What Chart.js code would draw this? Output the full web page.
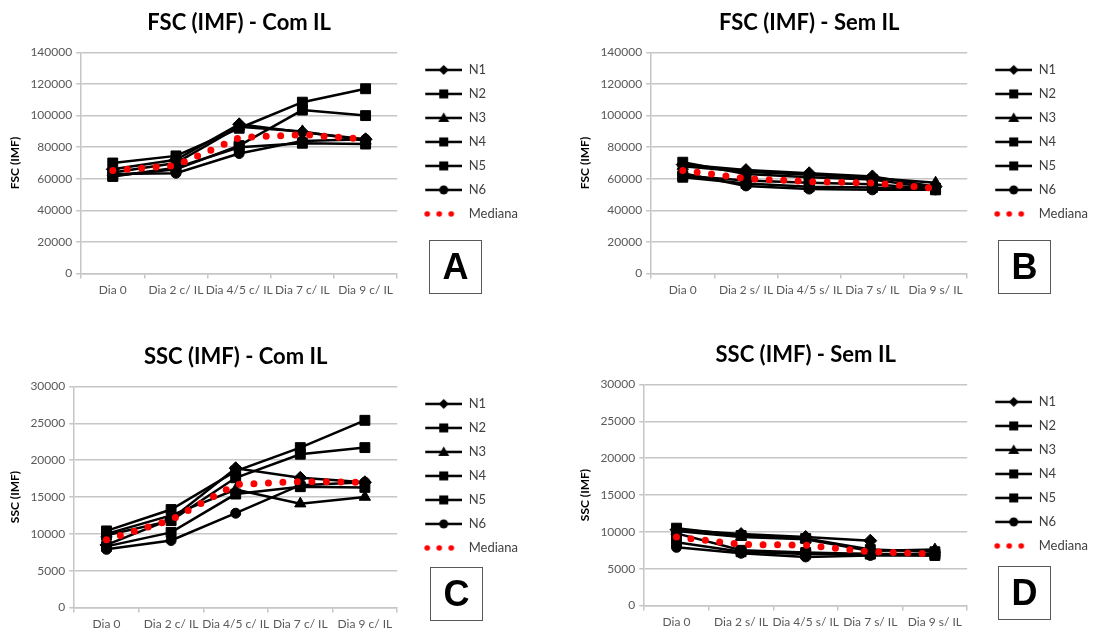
<!DOCTYPE html>
<html>
<head>
<meta charset="utf-8">
<script src="https://cdn.jsdelivr.net/npm/chart.js@4.4.1/dist/chart.umd.min.js"></script>
<style>
  body { margin: 0; background: #fff; }
  #wrap { position: relative; width: 1094px; height: 633px; overflow: hidden; }
  canvas { position: absolute; }
  .letra {
    position: absolute; width: 53px; height: 54px; border: 1px solid #595959;
    font: bold 36px "Liberation Sans", Arial, sans-serif; color: #000;
    display: flex; align-items: center; justify-content: center; box-sizing: border-box;
  }
</style>
</head>
<body>
<div id="wrap">
  <canvas id="gA" width="535" height="301" style="left:0;top:0"></canvas>
  <canvas id="gB" width="535" height="301" style="left:570px;top:0"></canvas>
  <canvas id="gC" width="535" height="301" style="left:0;top:334px"></canvas>
  <canvas id="gD" width="535" height="301" style="left:570px;top:332px"></canvas>
  <div class="letra" style="left:429px;top:240px">A</div>
  <div class="letra" style="left:998px;top:240px">B</div>
  <div class="letra" style="left:430px;top:567px">C</div>
  <div class="letra" style="left:998px;top:566px">D</div>
</div>
<script>
// --- dados ---
const diasCom = ['Dia 0', 'Dia 2 c/ IL', 'Dia 4/5 c/ IL', 'Dia 7 c/ IL', 'Dia 9 c/ IL'];
const diasSem = ['Dia 0', 'Dia 2 s/ IL', 'Dia 4/5 s/ IL', 'Dia 7 s/ IL', 'Dia 9 s/ IL'];
const nomes = ['N1', 'N2', 'N3', 'N4', 'N5', 'N6'];
const marcadores = ['rectRot', 'rect', 'triangle', 'rect', 'rect', 'circle'];

// FSC com IL (A)
const fscCom = [
  [66000, 72000, 94500, 89500, 85000],
  [70000, 74500, 92000, 108500, 117000],
  [64000, 70000, 93000, 90000, 84000],
  [62000, 66000, 81000, 103500, 100000],
  [61500, 67000, 80000, 82500, 82000],
  [63000, 63500, 76000, 84000, 85000]
];
const fscComMediana = [65300, 68400, 86000, 88000, 85000];

// FSC sem IL (B)
const fscSem = [
  [69000, 65500, 63500, 61500, 55000],
  [70500, 63000, 61000, 59500, 54000],
  [68000, 64500, 62500, 60500, 57500],
  [62000, 59000, 57500, 56500, 53500],
  [61000, 57000, 55000, 54500, 53000],
  [63500, 55500, 53500, 53000, 53000]
];
const fscSemMediana = [65300, 60200, 58200, 57300, 54000];

// SSC com IL (C)
const sscCom = [
  [8500, 12000, 18900, 17600, 17000],
  [10400, 13300, 18500, 21700, 25400],
  [10000, 12500, 16000, 14100, 15000],
  [9800, 11800, 17600, 20800, 21700],
  [8300, 10200, 15400, 16400, 16300],
  [7900, 9100, 12800, 16600, 17000]
];
const sscComMediana = [9200, 11900, 16700, 17100, 17000];

// SSC sem IL (D)
const sscSem = [
  [10300, 9700, 9300, 8800, null],
  [10500, 9500, 9100, 7600, 7300],
  [10100, 9300, 9000, 7400, 7600],
  [9800, 7500, 7200, 7000, 7000],
  [8600, 7300, 7000, 7000, 6800],
  [7900, 7100, 6600, 6800, 6800]
];
const sscSemMediana = [9300, 8300, 8200, 7300, 7000];

const CINZA = '#595959';
const GRADE = '#c6c6c6';
const VERMELHO = '#ff0000';
const raios = { rectRot: 6.5, rect: 7, triangle: 6.5, circle: 5 };

// icones da legenda (linha + marcador)
function iconeLegenda(tipo) {
  const c = document.createElement('canvas');
  c.width = 54; c.height = 14;
  const g = c.getContext('2d');
  const x = 35.5, y = 7;
  if (tipo === 'mediana') {
    g.fillStyle = VERMELHO;
    [19, 31, 43].forEach(px => { g.beginPath(); g.arc(px, y, 2.8, 0, 2 * Math.PI); g.fill(); });
    return c;
  }
  g.strokeStyle = '#000'; g.lineWidth = 2.5;
  g.beginPath(); g.moveTo(17, y); g.lineTo(54, y); g.stroke();
  g.fillStyle = '#000';
  g.beginPath();
  if (tipo === 'rectRot') {
    g.moveTo(x, y - 5); g.lineTo(x + 5, y); g.lineTo(x, y + 5); g.lineTo(x - 5, y);
  } else if (tipo === 'rect') {
    g.rect(x - 4.5, y - 4.5, 9, 9);
  } else if (tipo === 'triangle') {
    g.moveTo(x, y - 5.5); g.lineTo(x + 5.5, y + 4); g.lineTo(x - 5.5, y + 4);
  } else {
    g.arc(x, y, 4.5, 0, 2 * Math.PI);
  }
  g.closePath(); g.fill();
  return c;
}
const icones = marcadores.map(iconeLegenda).concat([iconeLegenda('mediana')]);

function grafico(id, titulo, eixoY, labels, series, mediana, maxY, passo) {
  const datasets = series.map((vals, i) => ({
    label: nomes[i],
    data: vals,
    borderColor: '#000',
    backgroundColor: '#000',
    borderWidth: 2.5,
    pointStyle: marcadores[i],
    pointRadius: raios[marcadores[i]],
    pointBorderWidth: 1,
    tension: 0,
    spanGaps: false
  }));
  datasets.push({
    label: 'Mediana',
    data: mediana,
    borderColor: VERMELHO,
    backgroundColor: VERMELHO,
    borderWidth: 7,
    borderDash: [0, 14.5],
    borderCapStyle: 'round',
    pointRadius: 0,
    tension: 0,
    order: -1
  });

  new Chart(document.getElementById(id), {
    type: 'line',
    data: { labels: labels, datasets: datasets },
    options: {
      responsive: false,
      animation: false,
      devicePixelRatio: 1,
      layout: { padding: { left: 4, right: 7, bottom: 0 } },
      plugins: {
        tooltip: { enabled: false },
        title: {
          display: true, text: titulo, fullSize: false, color: '#000',
          font: { family: 'Lato', size: 22, weight: 'bold' },
          padding: { top: 10, bottom: 16 }
        },
        legend: {
          position: 'right', align: 'start', fullSize: false,
          labels: {
            usePointStyle: true, pointStyleWidth: 54, padding: 11,
            color: '#404040', font: { family: 'Lato', size: 13 },
            generateLabels: function(chart) {
              const itens = Chart.defaults.plugins.legend.labels.generateLabels(chart);
              itens.sort((a, b) => a.datasetIndex - b.datasetIndex);
              itens.forEach(it => { it.pointStyle = icones[it.datasetIndex]; it.rotation = 0; });
              return itens;
            }
          }
        }
      },
      scales: {
        x: {
          offset: true,
          grid: { offset: true, drawOnChartArea: false, tickLength: 5, color: GRADE, lineWidth: 1.5 },
          border: { color: GRADE, width: 1.5 },
          ticks: { autoSkip: false, maxRotation: 0, minRotation: 0, padding: 4, color: CINZA,
                   font: { family: 'Lato', size: 12 } }
        },
        y: {
          min: 0, max: maxY,
          grid: { color: GRADE, lineWidth: 1.5, tickLength: 5 },
          border: { color: GRADE, width: 1.5 },
          ticks: { stepSize: passo, padding: 4, color: CINZA, font: { family: 'Lato', size: 12 },
                   callback: v => String(v) },
          title: { display: true, text: eixoY, color: '#000',
                   font: { family: 'Lato', size: 12, weight: 'bold' } }
        }
      }
    }
  });
}

grafico('gA', 'FSC (IMF) - Com IL', 'FSC (IMF)', diasCom, fscCom, fscComMediana, 140000, 20000);
grafico('gB', 'FSC (IMF) - Sem IL', 'FSC (IMF)', diasSem, fscSem, fscSemMediana, 140000, 20000);
grafico('gC', 'SSC (IMF) - Com IL', 'SSC (IMF)', diasCom, sscCom, sscComMediana, 30000, 5000);
grafico('gD', 'SSC (IMF) - Sem IL', 'SSC (IMF)', diasSem, sscSem, sscSemMediana, 30000, 5000);
</script>
</body>
</html>
